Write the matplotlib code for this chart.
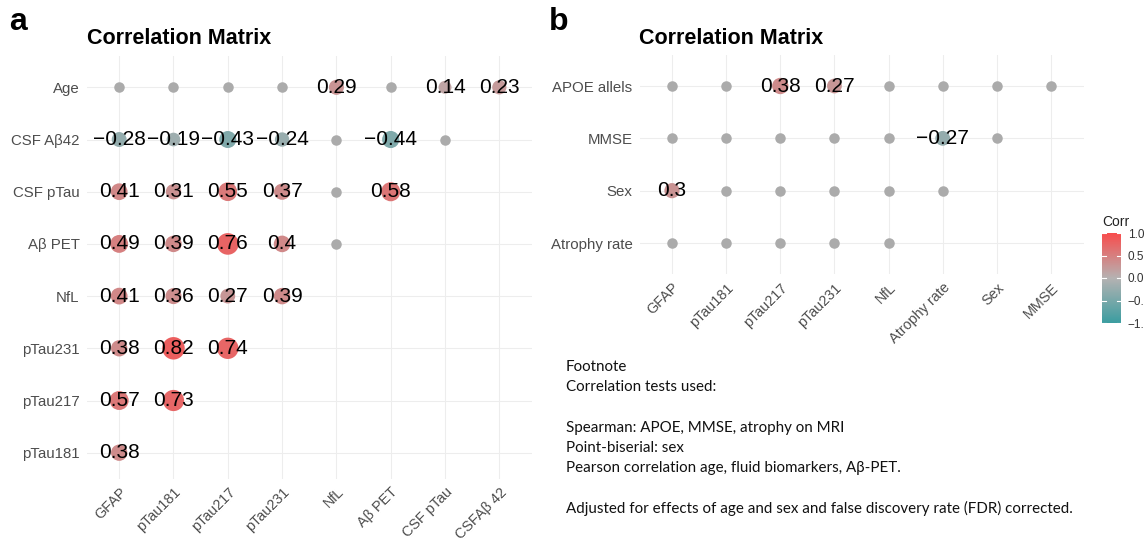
import numpy as np
import matplotlib
matplotlib.use("Agg")
import matplotlib.pyplot as plt
import matplotlib.transforms as mtransforms
from matplotlib.colors import LinearSegmentedColormap, Normalize
from matplotlib.cm import ScalarMappable

NS = "ns"  # not significant -> grey dot
# ---------------- data ----------------
a_rows = ["Age", "CSF Aβ42", "CSF pTau", "Aβ PET", "NfL", "pTau231", "pTau217", "pTau181"]
a_cols = ["GFAP", "pTau181", "pTau217", "pTau231", "NfL", "Aβ PET", "CSF pTau", "CSFAβ 42"]
a_vals = [
    [NS, NS, NS, NS, 0.29, NS, 0.14, 0.23],
    [-0.28, -0.19, -0.43, -0.24, NS, -0.44, NS, None],
    [0.41, 0.31, 0.55, 0.37, NS, 0.58, None, None],
    [0.49, 0.39, 0.76, 0.4, NS, None, None, None],
    [0.41, 0.36, 0.27, 0.39, None, None, None, None],
    [0.38, 0.82, 0.74, None, None, None, None, None],
    [0.57, 0.73, None, None, None, None, None, None],
    [0.38, None, None, None, None, None, None, None],
]

b_rows = ["APOE allels", "MMSE", "Sex", "Atrophy rate"]
b_cols = ["GFAP", "pTau181", "pTau217", "pTau231", "NfL", "Atrophy rate", "Sex", "MMSE"]
b_vals = [
    [NS, NS, 0.38, 0.27, NS, NS, NS, NS],
    [NS, NS, NS, NS, NS, -0.27, NS, None],
    [0.3, NS, NS, NS, NS, NS, None, None],
    [NS, NS, NS, NS, NS, None, None, None],
]

footnote_lines = [
    "Footnote",
    "Correlation tests used:",
    "",
    "Spearman: APOE, MMSE, atrophy on MRI",
    "Point-biserial: sex",
    "Pearson correlation age, fluid biomarkers, Aβ-PET.",
    "",
    "Adjusted for effects of age and sex and false discovery rate (FDR) corrected.",
]

cbar_ticks = [-1.0, -0.5, 0.0, 0.5, 1.0]
cbar_labels = ["\u22121.0", "\u22120.5", "0.0", "0.5", "1.0"]

# ---------------- style ----------------
W, H = 1144, 541
FONT = "Liberation Sans"
cmap = LinearSegmentedColormap.from_list("corr", ["#3B9DA0", "#B5B2B2", "#F84C4C"])
norm = Normalize(-1, 1)
GREY = "#ABABAB"
GRID = "#EDEDED"
TICKC = "#4D4D4D"

fig = plt.figure(figsize=(W / 100, H / 100), dpi=100)


def px_axes(left, top, right, bottom):
    return fig.add_axes([left / W, 1 - bottom / H, (right - left) / W, (bottom - top) / H])


def fmt(v):
    return f"{v:g}".replace("-", "\u2212")


def draw(ax, rows, cols, vals, ybot):
    nr, nc = len(rows), len(cols)
    ax.set_xlim(0.4, nc + 0.6)
    ax.set_ylim(ybot, nr + 0.6)
    for sp in ax.spines.values():
        sp.set_visible(False)
    ax.set_xticks(np.arange(1, nc + 1))
    ax.set_yticks(np.arange(1, nr + 1))
    ax.set_yticklabels(rows[::-1], fontsize=10.8, color=TICKC, family=FONT)
    ax.set_xticklabels(cols, fontsize=10.4, color=TICKC, family=FONT,
                       rotation=45, ha="right", va="center", rotation_mode="anchor")
    ax.tick_params(axis="y", length=0, pad=5)
    ax.tick_params(axis="x", length=0, pad=8)
    off = mtransforms.ScaledTranslation(5 / 100, 0, fig.dpi_scale_trans)
    for lab in ax.get_xticklabels():
        lab.set_transform(lab.get_transform() + off)
    ax.grid(True, color=GRID, lw=0.8, zorder=0)
    ax.set_axisbelow(True)
    gx, gy, cx, cy, cv = [], [], [], [], []
    for i, r in enumerate(rows):
        y = nr - i
        for j, v in enumerate(vals[i]):
            x = j + 1
            if v is None:
                continue
            if v == NS:
                gx.append(x); gy.append(y)
            else:
                cx.append(x); cy.append(y); cv.append(v)
    ax.scatter(gx, gy, s=(10.5 * 0.72) ** 2, color=GREY, lw=0, zorder=2)
    cv = np.array(cv)
    d = 11 + 14 * np.abs(cv)
    ax.scatter(cx, cy, s=(d * 0.72) ** 2, c=cv, cmap=cmap, norm=norm, lw=0, zorder=3)
    for x, y, v in zip(cx, cy, cv):
        ax.text(x, y, fmt(v), ha="center", va="center", fontsize=15,
                family=FONT, color="black", zorder=4)


axa = px_axes(86.6, 56, 531.9, 478.8)
draw(axa, a_rows, a_cols, a_vals, 0.5)
axb = px_axes(639.5, 54.6, 1083.5, 274.4)
draw(axb, b_rows, b_cols, b_vals, 0.4)

# titles and panel letters
for xp in (87, 639):
    fig.text(xp / W, 1 - 39 / H, "Correlation Matrix", fontsize=15.5, fontweight="bold",
             family=FONT, ha="left", va="center")
fig.text(9 / W, 1 - 22 / H, "a", fontsize=23, fontweight="bold", family=FONT,
         ha="left", va="center")
fig.text(549 / W, 1 - 22 / H, "b", fontsize=23, fontweight="bold", family=FONT,
         ha="left", va="center")

# colour bar
cax = px_axes(1102, 233, 1121, 323)
cb = fig.colorbar(ScalarMappable(norm=norm, cmap=cmap), cax=cax, ticks=cbar_ticks)
cb.outline.set_visible(False)
cb.ax.tick_params(length=0, pad=5, labelsize=8.5, labelcolor="#333333")
cb.ax.set_yticklabels(cbar_labels, family=FONT)
for t in cbar_ticks:
    cax.axhline(t, xmin=0, xmax=0.2, color="white", lw=0.8)
    cax.axhline(t, xmin=0.8, xmax=1, color="white", lw=0.8)
fig.text(1102 / W, 1 - 222 / H, "Corr", fontsize=10, family=FONT, color="#222222",
         ha="left", va="center")

# footnote
for k, line in enumerate(footnote_lines):
    fig.text(566 / W, 1 - (367 + 20.2 * k) / H, line, fontsize=10.9, family="Lato",
             color="#111111", ha="left", va="center")

fig.savefig("out.png", dpi=100, facecolor="white")
